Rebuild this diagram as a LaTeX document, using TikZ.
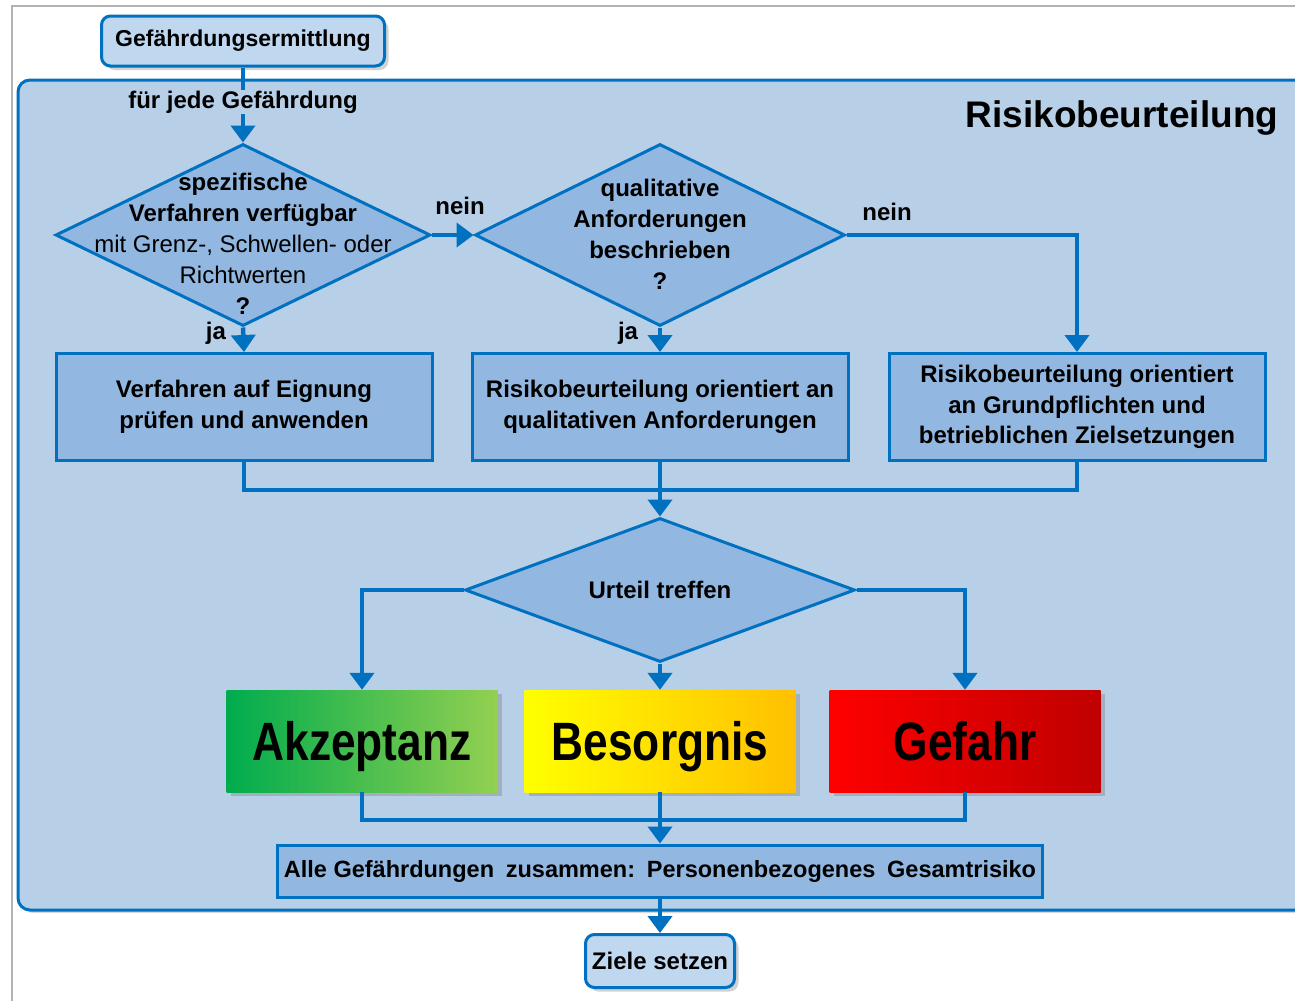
\documentclass[tikz,border=0pt]{standalone}
\usepackage{fontspec}
\setmainfont{Liberation Sans}
\newfontfamily\bigfont{Liberation Sans}[FakeStretch=0.82]
\usetikzlibrary{shapes.geometric,arrows.meta,shadows}
\definecolor{lineblue}{RGB}{0,112,192}
\definecolor{framefill}{RGB}{184,207,232}
\definecolor{boxfill}{RGB}{146,183,224}
\definecolor{lightfill}{RGB}{192,215,240}
\definecolor{accL}{RGB}{0,172,78}
\definecolor{accR}{RGB}{146,208,80}
\definecolor{besL}{RGB}{255,255,0}
\definecolor{besR}{RGB}{255,192,0}
\definecolor{gefL}{RGB}{255,0,0}
\definecolor{gefR}{RGB}{192,0,0}
\tikzset{
  txt/.style={font=\fontsize{24}{30.5}\selectfont\bfseries, align=center, text=black},
  procbox/.style={draw=lineblue, line width=3pt, fill=boxfill, minimum width=376pt, minimum height=107pt, inner sep=0pt, txt},
  termbox/.style={draw=lineblue, line width=3pt, fill=lightfill, rounded corners=9pt, inner sep=0pt, txt,
     drop shadow={opacity=0.35, shadow xshift=4pt, shadow yshift=-4pt}},
  dia/.style={diamond, draw=lineblue, line width=3pt, fill=boxfill, inner sep=0pt},
  result/.style={minimum width=271pt, minimum height=102pt, inner sep=0pt, text height=44pt, text depth=6pt,
     font=\bigfont\fontsize{54}{60}\selectfont\bfseries, text=black,
     drop shadow={opacity=0.4, shadow xshift=4pt, shadow yshift=-4pt}},
  conn/.style={draw=lineblue, line width=4.5pt},
  arr/.style={conn, -{Triangle[width=24pt,length=17pt]}},
  lbl/.style={font=\fontsize{24}{28}\selectfont\bfseries, text=black, inner sep=1pt},
}
\begin{document}
\begin{tikzpicture}[x=1pt,y=-1pt]
\useasboundingbox (0,0) rectangle (1295,1001);
\fill[white] (0,0) rectangle (1295,1001);
\begin{scope}
\clip (0,0) rectangle (1295,1001);
\draw[gray!60, line width=1.5pt] (12,1001) -- (12,6) -- (1300,6);
\draw[lineblue, line width=3pt, fill=framefill, rounded corners=12pt,
  drop shadow={opacity=0.3, shadow xshift=3pt, shadow yshift=-3pt}] (18,80) rectangle (1320,910);
\end{scope}

\node[txt, font=\fontsize{37}{40}\selectfont\bfseries] (title) at (1122,118) {Risikobeurteilung};

\node[termbox, minimum width=283pt, minimum height=50pt, font=\fontsize{23}{26}\selectfont\bfseries] (gef) at (243,41) {Gefährdungsermittlung};

\node[dia, minimum width=375pt, minimum height=182pt] (d1) at (243,235) {};
\node[txt, font=\fontsize{24}{31}\selectfont] (d1t) at (243,244) {\textbf{spezifische}\\\textbf{Verfahren verfügbar}\\mit Grenz-, Schwellen- oder\\Richtwerten\\\textbf{?}};

\node[dia, minimum width=370pt, minimum height=182pt] (d2) at (660,235) {};
\node[txt, font=\fontsize{24}{31}\selectfont\bfseries] (d2t) at (660,234) {qualitative\\Anforderungen\\beschrieben\\?};

\node[procbox] (b1) at (244,407) {Verfahren auf Eignung\\prüfen und anwenden};
\node[procbox] (b2) at (660,407) {Risikobeurteilung orientiert an\\qualitativen Anforderungen};
\node[procbox] (b3) at (1077,407) {Risikobeurteilung orientiert\\an Grundpflichten und\\betrieblichen Zielsetzungen};

\node[dia, minimum width=390pt, minimum height=144pt] (d3) at (660,590) {};
\node[txt] (d3t) at (660,590) {Urteil treffen};

\node[result, left color=accL, right color=accR] (acc) at (362,741) {Akzeptanz};
\node[result, left color=besL, right color=besR] (bes) at (660,741) {Besorgnis};
\node[result, left color=gefL, right color=gefR] (gfh) at (965,741) {Gefahr};

\node[procbox, minimum width=765pt, minimum height=52pt, font=\fontsize{23.5}{26}\selectfont\bfseries] (alle) at (660,871)
  {Alle Gefährdungen\hspace{0.5em}zusammen:\hspace{0.5em}Personenbezogenes\hspace{0.5em}Gesamtrisiko};

\node[termbox, minimum width=149pt, minimum height=53pt] (ziele) at (660,961) {Ziele setzen};

% connectors
\draw[arr] (gef.south) -- (d1.north);
\node[lbl, fill=framefill] (fjg) at (243,102) {für jede Gefährdung};
\draw[arr] (d1.east) -- (d2.west);
\node[lbl] (nein1) at (460,206) {nein};
\draw[arr] (d2.east) -| (b3.north);
\node[lbl] (nein2) at (887,212) {nein};
\draw[arr] (d1.south) -- (b1.north);
\node[lbl] (ja1) at (216,333) {ja};
\draw[arr] (d2.south) -- (b2.north);
\node[lbl] (ja2) at (628,333) {ja};

\coordinate (j) at (660,490);
\draw[conn] (b1.south) |- (j) -| (b3.south);
\draw[arr] (b2.south) -- (d3.north);

\draw[arr] (d3.west) -| (acc.north);
\draw[arr] (d3.south) -- (bes.north);
\draw[arr] (d3.east) -| (gfh.north);

\coordinate (k) at (660,820);
\draw[conn] (acc.south) |- (k) -| (gfh.south);
\draw[arr] (bes.south) -- (alle.north);
\draw[arr] (alle.south) -- (ziele.north);
\end{tikzpicture}
\end{document}
